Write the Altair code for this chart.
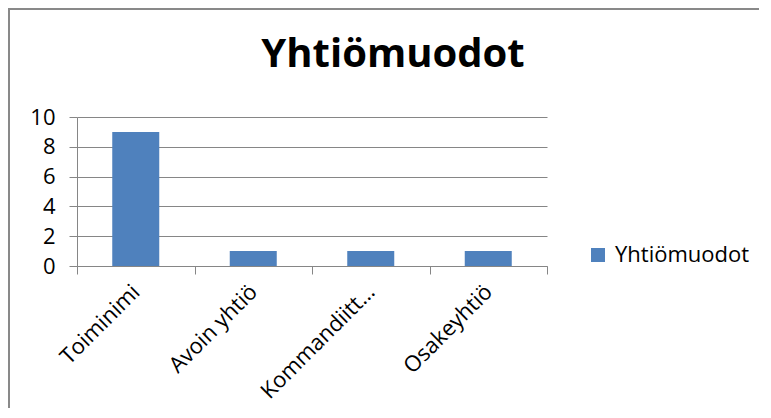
import altair as alt
import pandas as pd

categories = ["Toiminimi", "Avoin yhtiö", "Kommandiitt…", "Osakeyhtiö"]
values = [9, 1, 1, 1]
series_name = "Yhtiömuodot"
chart_title = "Yhtiömuodot"
y_ticks = [0, 2, 4, 6, 8, 10]

df = pd.DataFrame({"category": categories, "value": values, "series": [series_name] * len(categories)})

FONT = "Open Sans"
GRID = "#868686"

bars = alt.Chart(df).mark_bar(width={"band": 0.4}, color="#4F81BD").encode(
    x=alt.X("category:N", sort=categories, title=None,
            scale=alt.Scale(paddingInner=0, paddingOuter=0),
            axis=alt.Axis(tickBand="extent", labelAngle=-45, labelAlign="right",
                          labelBaseline="middle", labelFont=FONT, labelFontSize=22,
                          labelColor="#000000", labelPadding=14, tickSize=8,
                          tickColor=GRID, domainColor=GRID, grid=False, labelLimit=300)),
    y=alt.Y("value:Q", title=None,
            scale=alt.Scale(domain=[0, 10], nice=False),
            axis=alt.Axis(values=y_ticks, labelFont=FONT, labelFontSize=22,
                          labelColor="#000000", labelPadding=14, tickSize=8,
                          tickColor=GRID, domainColor=GRID, gridColor=GRID,
                          grid=True, gridWidth=1)),
    color=alt.Color("series:N", scale=alt.Scale(range=["#4F81BD"]),
                    legend=alt.Legend(title=None, orient="none", legendX=510, legendY=127,
                                      symbolType="square", symbolSize=196,
                                      symbolStrokeWidth=0, labelFont=FONT,
                                      labelFontSize=22, labelColor="#000000",
                                      labelOffset=6, padding=0)),
)

one = pd.DataFrame({"k": [0]})
title = alt.Chart(one).mark_text(text=chart_title, font=FONT, fontSize=40,
                                 fontWeight="bold", color="#000000",
                                 align="center", baseline="alphabetic").encode(
    x=alt.value(316), y=alt.value(-50))

border_v = alt.Chart(one).mark_rect(color="#898989").encode(
    x=alt.value(-69), x2=alt.value(-67), y=alt.value(-109), y2=alt.value(400))
border_h = alt.Chart(one).mark_rect(color="#898989").encode(
    x=alt.value(-69), x2=alt.value(1000), y=alt.value(-109), y2=alt.value(-107))

chart = alt.layer(border_v, border_h, bars, title).properties(
    width=470, height=149,
    autosize=alt.AutoSizeParams(type="none"),
    padding={"left": 69, "top": 109, "right": 212, "bottom": 142},
    background="#ffffff",
).configure_view(stroke=None)

chart.save("out.html", embed_options={"renderer": "svg", "actions": False})
